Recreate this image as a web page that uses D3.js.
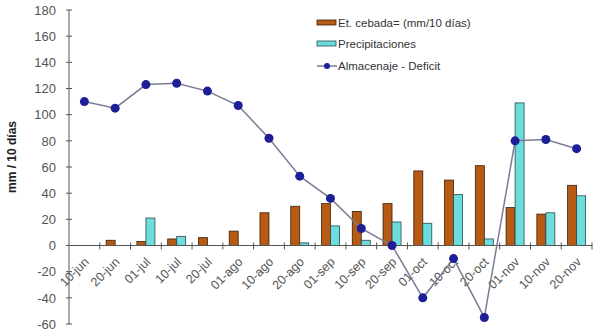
<!DOCTYPE html>
<html><head><meta charset="utf-8">
<script src="https://cdn.jsdelivr.net/npm/d3@7"></script>
<style>body{margin:0;background:#fff}svg{display:block}text{font-family:"Liberation Sans",Arial,sans-serif}</style>
</head><body><svg id="c" width="598" height="333"></svg>
<script>
const categories = ["10-jun","20-jun","01-jul","10-jul","20-jul","01-ago","10-ago","20-ago","01-sep","10-sep","20-sep","01-oct","10-oct","20-oct","01-nov","10-nov","20-nov"];
const etCebada = [null,4,3,5,6,11,25,30,32,26,32,57,50,61,29,24,46];
const precipitaciones = [null,0,21,7,0,0,0,2,15,4,18,17,39,5,109,25,38];
const almacenaje = [110,105,123,124,118,107,82,53,36,13,0,-40,-10,-55,80,81,74];
const yTicks = [-60,-40,-20,0,20,40,60,80,100,120,140,160,180];
const seriesNames = ["Et. cebada= (mm/10 días)","Precipitaciones","Almacenaje - Deficit"];

const svg = d3.select("#c");
const x = d3.scaleBand().domain(categories).range([69,592]);
const y = d3.scaleLinear().domain([-60,180]).range([324,10]);
const axisCol = "#555";
const bw = 9;
const brown = "#b65a14", cyan = "#6cdcdc";

// bars
const g = svg.append("g");
categories.forEach((c,i)=>{
  const cx = x(c) + x.bandwidth()/2;
  if (etCebada[i] != null && etCebada[i] > 0)
    g.append("rect").attr("x",cx-bw).attr("y",y(etCebada[i])).attr("width",bw).attr("height",y(0)-y(etCebada[i]))
      .attr("fill",brown).attr("stroke","#3a2008").attr("stroke-width",0.8);
  if (precipitaciones[i] != null && precipitaciones[i] > 0)
    g.append("rect").attr("x",cx).attr("y",y(precipitaciones[i])).attr("width",bw).attr("height",y(0)-y(precipitaciones[i]))
      .attr("fill",cyan).attr("stroke","#2a4a4a").attr("stroke-width",0.8);
});

// y axis
const ya = svg.append("g").attr("transform","translate(69,0)");
ya.append("line").attr("y1",y(180)).attr("y2",y(-60)).attr("stroke",axisCol);
yTicks.forEach(t=>{
  ya.append("line").attr("x1",-3).attr("x2",3).attr("y1",y(t)).attr("y2",y(t)).attr("stroke",axisCol);
  ya.append("text").attr("x",-13).attr("y",y(t)).attr("dy","0.36em").attr("text-anchor","end")
    .attr("font-size",13).attr("fill","#555").text(t);
});

// x axis
const xa = svg.append("g").attr("transform",`translate(0,${y(0)})`);
xa.append("line").attr("x1",69).attr("x2",592).attr("stroke",axisCol);
categories.forEach((c,i)=>{
  const bx = x(c) + x.bandwidth();
  xa.append("line").attr("x1",bx).attr("x2",bx).attr("y1",-3).attr("y2",4).attr("stroke",axisCol);
  const cx = x(c) + x.bandwidth()/2;
  xa.append("text").attr("transform",`translate(${cx-1},${11}) rotate(-45)`).attr("text-anchor","end")
    .attr("dy","0.7em").attr("font-size",12.5).attr("fill","#555").text(c);
});

// line
const pts = categories.map((c,i)=>[x(c)+x.bandwidth()/2, y(almacenaje[i])]);
svg.append("path").attr("d",d3.line()(pts)).attr("fill","none").attr("stroke","#7b7b96").attr("stroke-width",1.5);
svg.selectAll("circle.p").data(pts).enter().append("circle").attr("class","p")
  .attr("cx",d=>d[0]).attr("cy",d=>d[1]).attr("r",4.5).attr("fill","#1e1e96");

// y label
svg.append("text").attr("transform","translate(16,157) rotate(-90)").attr("text-anchor","middle")
  .attr("font-size",12).attr("font-weight","bold").attr("fill","#222").text("mm / 10 días");

// legend
const lg = svg.append("g");
lg.append("rect").attr("x",317).attr("y",20).attr("width",19).attr("height",5).attr("fill",brown).attr("stroke","#3a2008").attr("stroke-width",0.8);
lg.append("rect").attr("x",317).attr("y",41).attr("width",19).attr("height",5).attr("fill",cyan).attr("stroke","#2a4a4a").attr("stroke-width",0.8);
lg.append("line").attr("x1",317).attr("x2",337).attr("y1",66).attr("y2",66).attr("stroke","#7b7b96").attr("stroke-width",1.5);
lg.append("circle").attr("cx",327).attr("cy",66).attr("r",3).attr("fill","#1e1e96");
[23,44,66].forEach((yy,i)=>{
  lg.append("text").attr("x",338).attr("y",yy).attr("dy","0.35em").attr("font-size",11.5).attr("fill","#333").text(seriesNames[i]);
});
</script></body></html>
